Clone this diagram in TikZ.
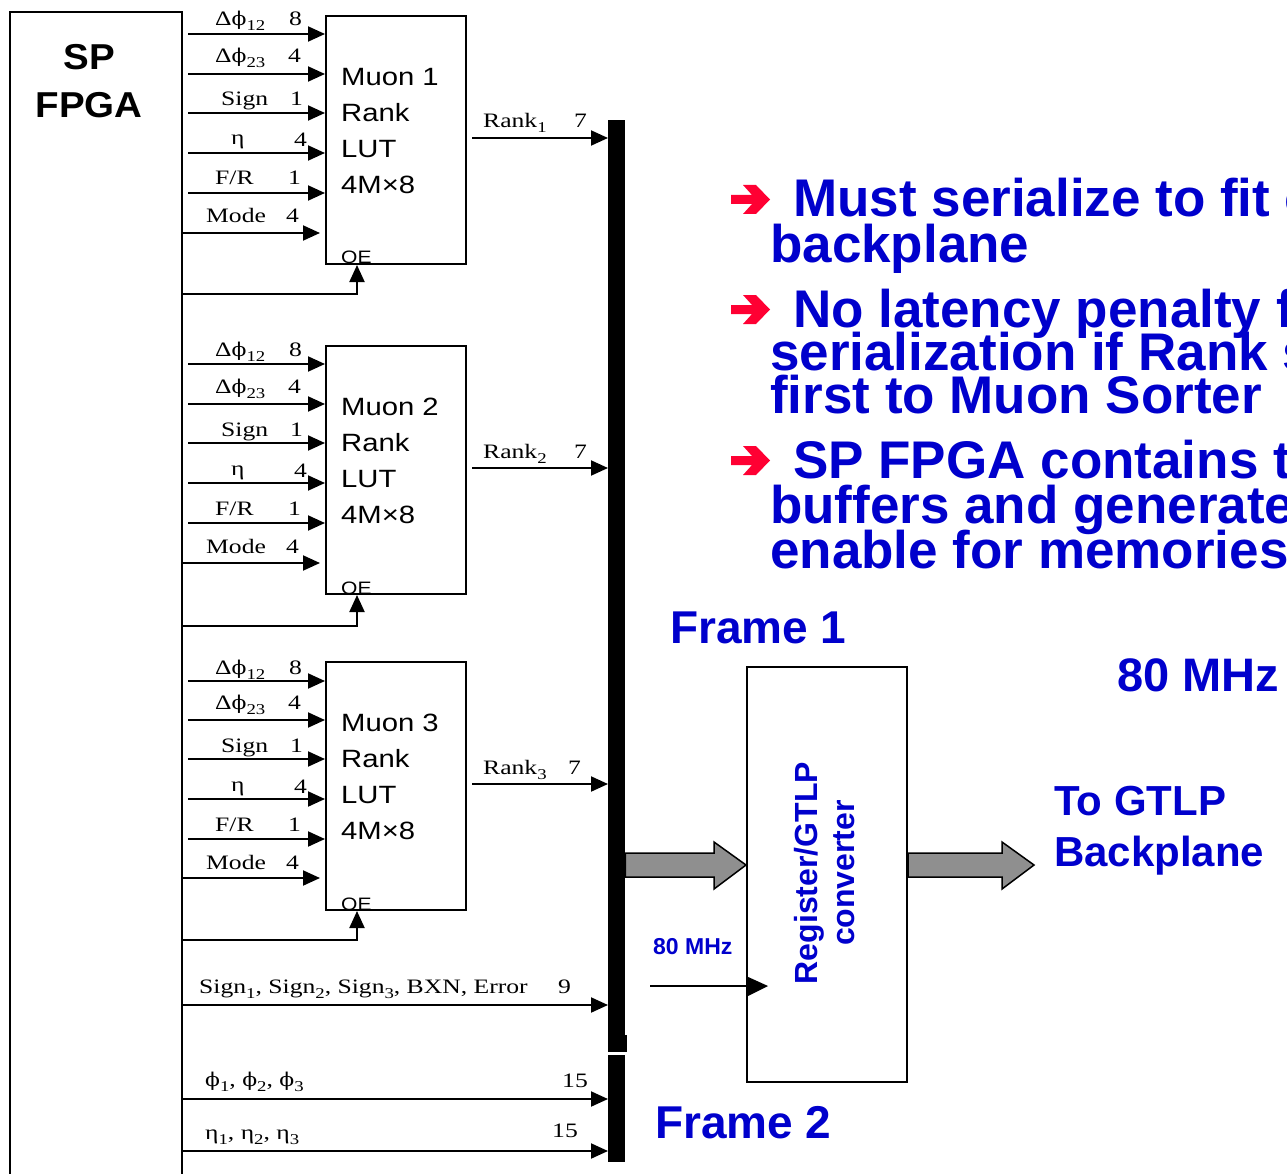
\documentclass[tikz,border=0pt]{standalone}
\usepackage{fontspec}
\setmainfont{Liberation Serif}
\setsansfont{Liberation Sans}
\newfontfamily\labelfont[FakeStretch=1.25]{Liberation Serif}
\newfontfamily\phifont[FakeStretch=1.15]{DejaVu Serif}
\newfontfamily\lutfont[FakeStretch=1.17]{Liberation Sans}
\newfontfamily\titlefont[FakeStretch=1.07]{Liberation Sans}
\newcommand\lo[1]{\raisebox{-5pt}{\fontsize{15}{15}\selectfont #1}}
\newcommand\ph{{\phifont\fontsize{19}{19}\selectfont ϕ}}
\usetikzlibrary{arrows.meta}
\definecolor{slideblue}{RGB}{0,0,204}
\definecolor{pointred}{RGB}{255,0,51}
\definecolor{fatgray}{RGB}{143,143,143}

\begin{document}
\begin{tikzpicture}[x=1pt,y=-1pt,line join=miter,
  sig/.style={line width=2pt,-{Triangle[length=17pt,width=15pt]}},
  lbl/.style={inner sep=0pt,anchor=base west,font=\labelfont\fontsize{20.5}{20.5}\selectfont},
  lut/.style={draw,line width=2pt,anchor=north west,inner sep=0pt,minimum width=140pt,minimum height=248pt},
  luttxt/.style={inner sep=0pt,anchor=north west,align=left,font=\lutfont\fontsize{25}{36}\selectfont},
  oetxt/.style={inner sep=0pt,anchor=base west,font=\lutfont\fontsize{18}{18}\selectfont},
  bus/.style={fill=black,inner sep=0pt,anchor=north west,minimum width=17pt},
  slide/.style={inner sep=0pt,anchor=base west,text=slideblue,font=\sffamily\bfseries\fontsize{53}{53}\selectfont},
  fat/.style={fill=fatgray,draw=black,line width=1.5pt}]
  \useasboundingbox (0,0) rectangle (1287,1174);
  \clip (0,0) rectangle (1287,1174);
  \node[draw,line width=2pt,anchor=north west,inner sep=0pt,minimum width=172pt,minimum height=1250pt] (fpga) at (9,11) {};
  \node[inner sep=0pt,anchor=base,font=\titlefont\bfseries\fontsize{36}{36}\selectfont] (sp) at (89,70) {SP};
  \node[inner sep=0pt,anchor=base,font=\titlefont\bfseries\fontsize{36}{36}\selectfont] (fpgaword) at (89,118) {FPGA};
  \node[bus,minimum height=932pt] (bus1) at (608,120) {};
  \node[bus,minimum height=107pt] (bus2) at (608,1055) {};
  \fill (608,1035) rectangle (627,1052);
  \begin{scope}[shift={(0,15)}]
    \node[lut] (lut1) at (325,0) {};
    \node[luttxt] (lut1txt) at (341,53) {Muon 1\\Rank\\LUT\\4M×8};
    \node[oetxt] (oe1) at (341,249) {OE};
    \node[lbl] (dpa1) at (215,11) {Δ\ph\lo{12}};
    \node[lbl] (dpa1w) at (289,11) {8};
    \node[lbl] (dpb1) at (215,48) {Δ\ph\lo{23}};
    \node[lbl] (dpb1w) at (288,48) {4};
    \node[lbl] (sign1) at (221,91) {Sign};
    \node[lbl] (sign1w) at (290,91) {1};
    \node[lbl] (eta1) at (231,130) {η};
    \node[lbl] (eta1w) at (294,132) {4};
    \node[lbl] (fr1) at (215,170) {F/R};
    \node[lbl] (fr1w) at (288,170) {1};
    \node[lbl] (mode1) at (206,208) {Mode};
    \node[lbl] (mode1w) at (286,208) {4};
    \draw[sig] ([xshift=5pt]fpga.east |- 0,19) -- (lut1.west |- 0,19);
    \draw[sig] ([xshift=5pt]fpga.east |- 0,59) -- (lut1.west |- 0,59);
    \draw[sig] ([xshift=5pt]fpga.east |- 0,98) -- (lut1.west |- 0,98);
    \draw[sig] ([xshift=5pt]fpga.east |- 0,138) -- (lut1.west |- 0,138);
    \draw[sig] ([xshift=5pt]fpga.east |- 0,178) -- (lut1.west |- 0,178);
    \draw[sig] (fpga.east |- 0,218) -- ([xshift=-5pt]lut1.west |- 0,218);
    \draw[sig] (fpga.east |- 0,279) -| ([xshift=32pt]lut1.south west);
    \node[lbl] (rank1) at (483,113) {Rank\lo{1}};
    \node[lbl] (rank1w) at (574,113) {7};
    \draw[sig] ([xshift=5pt]lut1.east |- 0,123) -- (bus1.west |- 0,123);
  \end{scope}
  \begin{scope}[shift={(0,345)}]
    \node[lut] (lut2) at (325,0) {};
    \node[luttxt] (lut2txt) at (341,53) {Muon 2\\Rank\\LUT\\4M×8};
    \node[oetxt] (oe2) at (341,249) {OE};
    \node[lbl] (dpa2) at (215,11) {Δ\ph\lo{12}};
    \node[lbl] (dpa2w) at (289,11) {8};
    \node[lbl] (dpb2) at (215,48) {Δ\ph\lo{23}};
    \node[lbl] (dpb2w) at (288,48) {4};
    \node[lbl] (sign2) at (221,91) {Sign};
    \node[lbl] (sign2w) at (290,91) {1};
    \node[lbl] (eta2) at (231,130) {η};
    \node[lbl] (eta2w) at (294,132) {4};
    \node[lbl] (fr2) at (215,170) {F/R};
    \node[lbl] (fr2w) at (288,170) {1};
    \node[lbl] (mode2) at (206,208) {Mode};
    \node[lbl] (mode2w) at (286,208) {4};
    \draw[sig] ([xshift=5pt]fpga.east |- 0,19) -- (lut2.west |- 0,19);
    \draw[sig] ([xshift=5pt]fpga.east |- 0,59) -- (lut2.west |- 0,59);
    \draw[sig] ([xshift=5pt]fpga.east |- 0,98) -- (lut2.west |- 0,98);
    \draw[sig] ([xshift=5pt]fpga.east |- 0,138) -- (lut2.west |- 0,138);
    \draw[sig] ([xshift=5pt]fpga.east |- 0,178) -- (lut2.west |- 0,178);
    \draw[sig] (fpga.east |- 0,218) -- ([xshift=-5pt]lut2.west |- 0,218);
    \draw[sig] (fpga.east |- 0,281) -| ([xshift=32pt]lut2.south west);
    \node[lbl] (rank2) at (483,113) {Rank\lo{2}};
    \node[lbl] (rank2w) at (574,113) {7};
    \draw[sig] ([xshift=5pt]lut2.east |- 0,123) -- (bus1.west |- 0,123);
  \end{scope}
  \begin{scope}[shift={(0,661)}]
    \node[lut] (lut3) at (325,0) {};
    \node[luttxt] (lut3txt) at (341,53) {Muon 3\\Rank\\LUT\\4M×8};
    \node[oetxt] (oe3) at (341,249) {OE};
    \node[lbl] (dpa3) at (215,13) {Δ\ph\lo{12}};
    \node[lbl] (dpa3w) at (289,13) {8};
    \node[lbl] (dpb3) at (215,48) {Δ\ph\lo{23}};
    \node[lbl] (dpb3w) at (288,48) {4};
    \node[lbl] (sign3) at (221,91) {Sign};
    \node[lbl] (sign3w) at (290,91) {1};
    \node[lbl] (eta3) at (231,130) {η};
    \node[lbl] (eta3w) at (294,132) {4};
    \node[lbl] (fr3) at (215,170) {F/R};
    \node[lbl] (fr3w) at (288,170) {1};
    \node[lbl] (mode3) at (206,208) {Mode};
    \node[lbl] (mode3w) at (286,208) {4};
    \draw[sig] ([xshift=5pt]fpga.east |- 0,20) -- (lut3.west |- 0,20);
    \draw[sig] ([xshift=5pt]fpga.east |- 0,59) -- (lut3.west |- 0,59);
    \draw[sig] ([xshift=5pt]fpga.east |- 0,98) -- (lut3.west |- 0,98);
    \draw[sig] ([xshift=5pt]fpga.east |- 0,138) -- (lut3.west |- 0,138);
    \draw[sig] ([xshift=5pt]fpga.east |- 0,178) -- (lut3.west |- 0,178);
    \draw[sig] (fpga.east |- 0,217) -- ([xshift=-5pt]lut3.west |- 0,217);
    \draw[sig] (fpga.east |- 0,279) -| ([xshift=32pt]lut3.south west);
    \node[lbl] (rank3) at (483,113) {Rank\lo{3}};
    \node[lbl] (rank3w) at (568,113) {7};
    \draw[sig] ([xshift=5pt]lut3.east |- 0,123) -- (bus1.west |- 0,123);
  \end{scope}
  \node[lbl] (flags) at (199,993) {Sign\lo{1}, Sign\lo{2}, Sign\lo{3}, BXN, Error};
  \node[lbl] (flagsw) at (558,993) {9};
  \draw[sig] (fpga.east |- 0,1005) -- (bus1.west |- 0,1005);
  \node[lbl] (phis) at (205,1086) {\ph\lo{1}, \ph\lo{2}, \ph\lo{3}};
  \node[lbl] (phisw) at (562,1087) {15};
  \draw[sig] (fpga.east |- 0,1099) -- (bus2.west |- 0,1099);
  \node[lbl] (etas) at (205,1139) {η\lo{1}, η\lo{2}, η\lo{3}};
  \node[lbl] (etasw) at (552,1137) {15};
  \draw[sig] (fpga.east |- 0,1151) -- (bus2.west |- 0,1151);
  \node[draw,line width=2pt,anchor=north west,inner sep=0pt,minimum width=160pt,minimum height=415pt] (reg) at (746,666) {};
  \node[rotate=90,align=center,inner sep=0pt,text=slideblue,font=\sffamily\bfseries\fontsize{32}{37}\selectfont] (regtxt) at (825,873) {Register/GTLP\\converter};
  \draw[fat] (bus1.east |- 0,853) -- (714,853) -- (714,842) -- (reg.west |- 0,865) -- (714,889) -- (714,877) -- (bus1.east |- 0,877) -- cycle;
  \coordinate (gtlp) at (1034,865);
  \draw[fat] (reg.east |- 0,853) -- (1002,853) -- (1002,842) -- (gtlp) -- (1002,889) -- (1002,877) -- (reg.east |- 0,877) -- cycle;
  \coordinate (clk) at (650,986);
  \draw[line width=1.5pt] (clk) -- (reg.west |- clk);
  \fill (reg.west |- 0,976) -- (768,986) -- (reg.west |- 0,997) -- cycle;
  \node[slide,font=\sffamily\bfseries\fontsize{23}{23}\selectfont] (clktxt) at (653,954) {80 MHz};
  \node[slide,font=\sffamily\bfseries\fontsize{46}{46}\selectfont] (frame1) at (670,643) {Frame 1};
  \node[slide,font=\sffamily\bfseries\fontsize{46}{46}\selectfont] (frame2) at (655,1138) {Frame 2};
  \node[slide,font=\sffamily\bfseries\fontsize{47}{47}\selectfont] (rate) at (1117,691) {80 MHz};
  \node[slide,font=\sffamily\bfseries\fontsize{42}{42}\selectfont] (togtlp) at (1054,815) {To GTLP};
  \node[slide,font=\sffamily\bfseries\fontsize{42}{42}\selectfont] (backpl) at (1054,866) {Backplane};
  \fill[pointred] (731,195) -- (752,195) -- (743,185) -- (756,185) -- (770,199.5) -- (756,214) -- (743,214) -- (752,204) -- (731,204) -- cycle;
  \fill[pointred] (731,305) -- (752,305) -- (743,295) -- (756,295) -- (770,309.5) -- (756,324) -- (743,324) -- (752,314) -- (731,314) -- cycle;
  \fill[pointred] (731,456) -- (752,456) -- (743,446) -- (756,446) -- (770,460.5) -- (756,475) -- (743,475) -- (752,465) -- (731,465) -- cycle;
  \node[slide] (pa1) at (793,217) {Must serialize to fit o};
  \node[slide] (pa2) at (770,262) {backplane};
  \node[slide] (pb1) at (793,327) {No latency penalty f};
  \node[slide] (pb2) at (770,370) {serialization if Rank s};
  \node[slide] (pb3) at (770,413) {first to Muon Sorter};
  \node[slide] (pc1) at (793,478) {SP FPGA contains t};
  \node[slide] (pc2) at (770,523) {buffers and generate};
  \node[slide] (pc3) at (770,568) {enable for memories};
\end{tikzpicture}
\end{document}
